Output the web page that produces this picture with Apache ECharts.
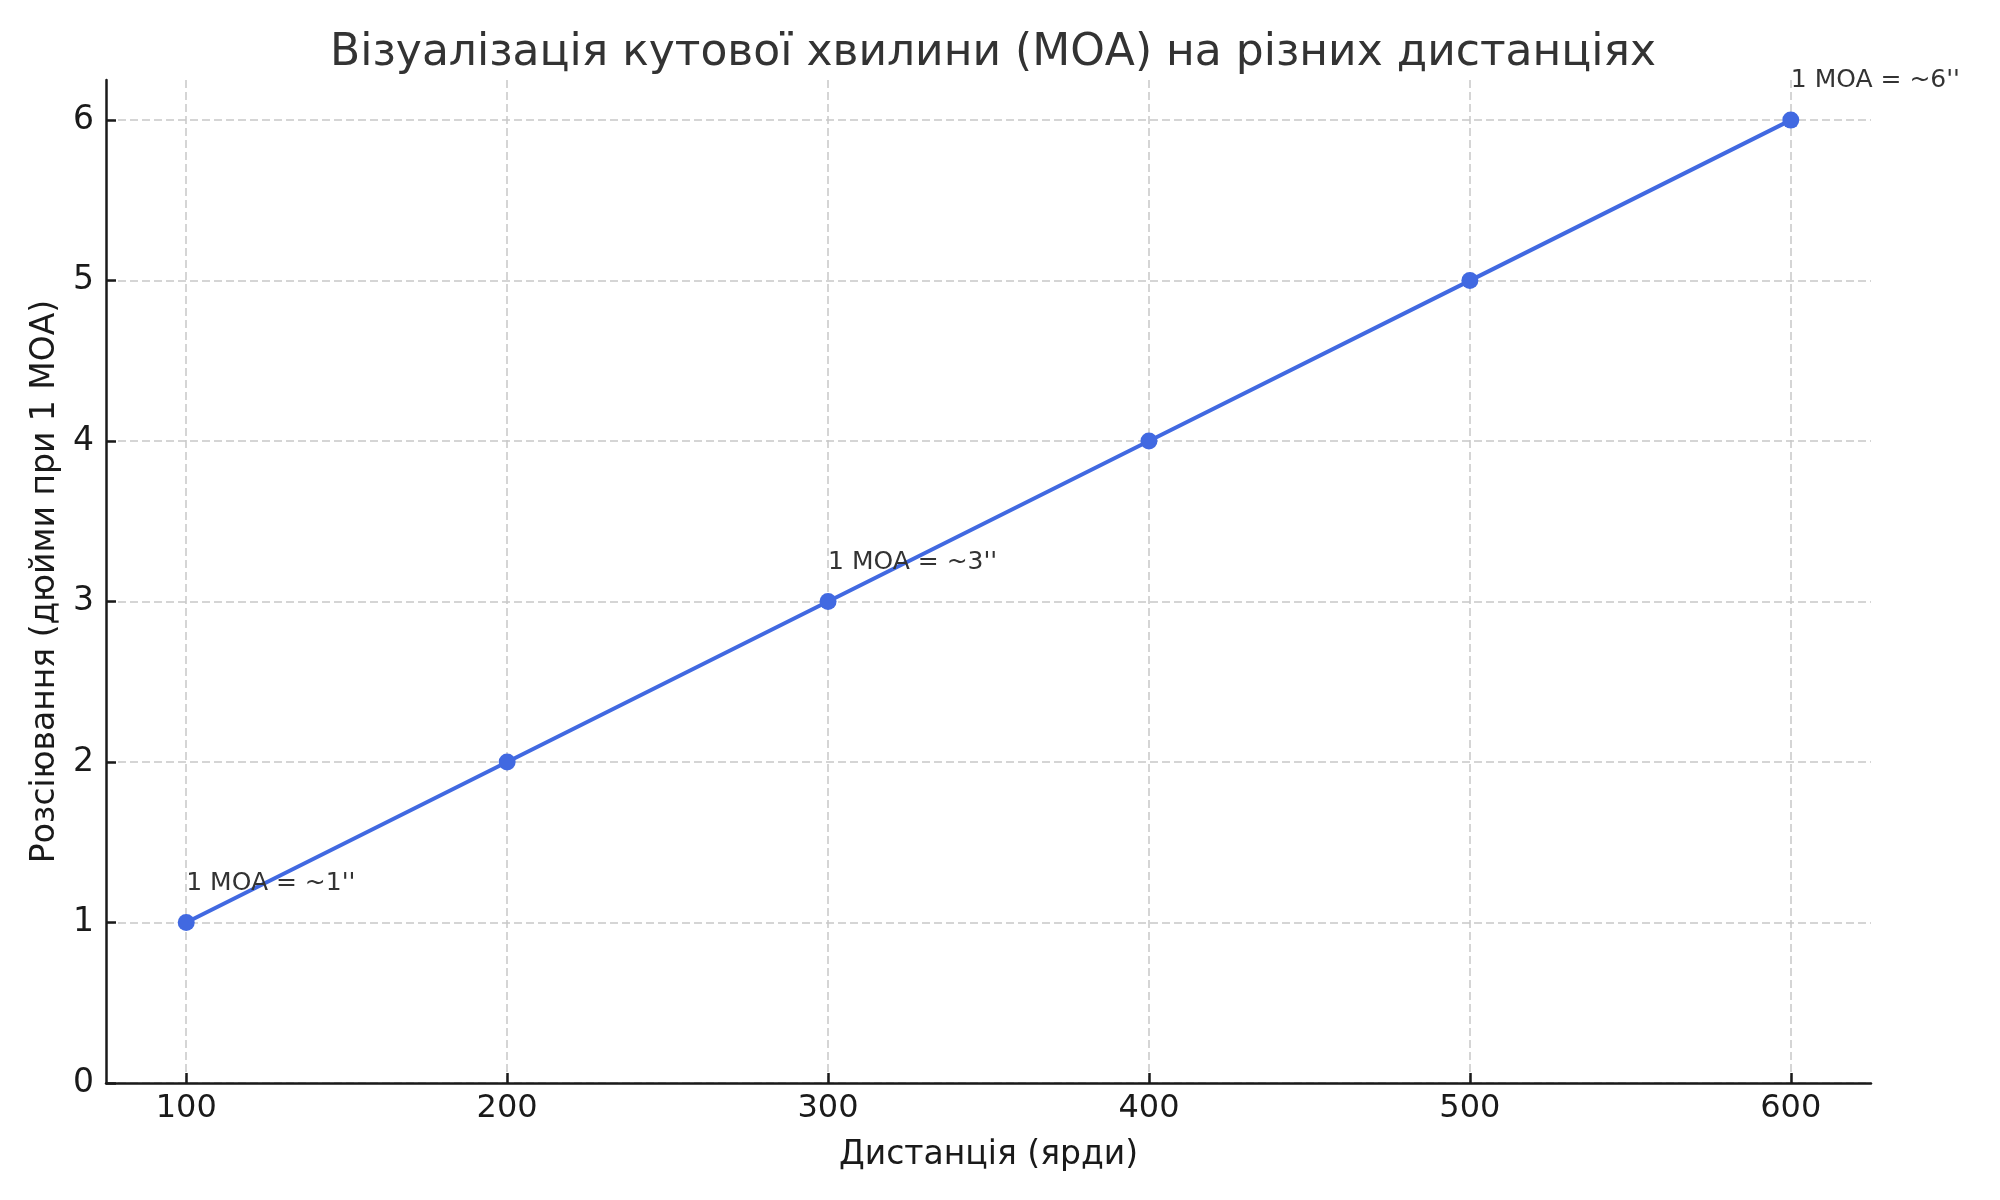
<!DOCTYPE html>
<html>
<head>
<meta charset="utf-8">
<script src="https://cdn.jsdelivr.net/npm/echarts@6/dist/echarts.min.js"></script>
<style>html,body{margin:0;padding:0;background:#fff}#c{width:2000px;height:1200px}</style>
</head>
<body>
<div id="c"></div>
<script>
const distances = [100, 200, 300, 400, 500, 600];
const moaInches = [1, 2, 3, 4, 5, 6];
const xTicks = [100, 200, 300, 400, 500, 600];
const yTicks = [0, 1, 2, 3, 4, 5, 6];
const annotX = [100, 300, 600];
const annotText = ["1 MOA = ~1''", "1 MOA = ~3''", "1 MOA = ~6''"];

const FONT = 'DejaVu Sans';
const chart = echarts.init(document.getElementById('c'), null, {renderer: 'canvas'});

const lineData = distances.map((d, i) => {
  const k = annotX.indexOf(d);
  const item = {value: [d, moaInches[i]]};
  if (k >= 0) {
    item.label = {
      show: true,
      formatter: annotText[k],
      position: 'inside',
      align: 'left',
      verticalAlign: 'bottom',
      offset: [0, -27],
      fontFamily: FONT,
      fontSize: 25,
      color: '#333333'
    };
  }
  return item;
});

chart.setOption({
  animation: false,
  backgroundColor: '#ffffff',
  title: {
    text: 'Візуалізація кутової хвилини (МОА) на різних дистанціях',
    left: 988,
    textAlign: 'center',
    top: 27,
    textStyle: {fontFamily: FONT, fontSize: 44, fontWeight: 'normal', color: '#333333'}
  },
  grid: {left: 106, right: 129, top: 80, bottom: 117, containLabel: false},
  xAxis: {
    type: 'value',
    min: 75, max: 625,
    name: 'Дистанція (ярди)',
    nameLocation: 'middle',
    nameGap: 56,
    nameTextStyle: {fontFamily: FONT, fontSize: 33, color: '#1a1a1a'},
    axisLine: {show: true, onZero: false, lineStyle: {color: '#1a1a1a', width: 2.5}},
    axisTick: {show: true, inside: true, length: 10, customValues: xTicks, lineStyle: {color: '#1a1a1a', width: 2.5}},
    axisLabel: {customValues: xTicks, margin: 10, fontFamily: FONT, fontSize: 32, color: '#1a1a1a'},
    splitLine: {show: true, lineStyle: {color: '#c8c8c8', width: 1.5, type: [8, 4]}}
  },
  yAxis: {
    type: 'value',
    min: 0, max: 6.25,
    name: 'Розсіювання (дюйми при 1 МОА)',
    nameLocation: 'middle',
    nameGap: 42,
    nameRotate: 90,
    nameTextStyle: {fontFamily: FONT, fontSize: 33, color: '#1a1a1a'},
    axisLine: {show: true, onZero: false, lineStyle: {color: '#1a1a1a', width: 2.5}},
    axisTick: {show: true, inside: true, length: 10, customValues: yTicks, lineStyle: {color: '#1a1a1a', width: 2.5}},
    axisLabel: {customValues: yTicks, margin: 12, fontFamily: FONT, fontSize: 33, color: '#1a1a1a'},
    splitLine: {show: true, lineStyle: {color: '#c8c8c8', width: 1.5, type: [8, 4]}}
  },
  series: [{
    type: 'line',
    data: lineData,
    symbol: 'circle',
    symbolSize: 17,
    showSymbol: true,
    lineStyle: {color: '#4169E1', width: 4},
    itemStyle: {color: '#4169E1'},
    z: 3
  }]
});
</script>
</body>
</html>
